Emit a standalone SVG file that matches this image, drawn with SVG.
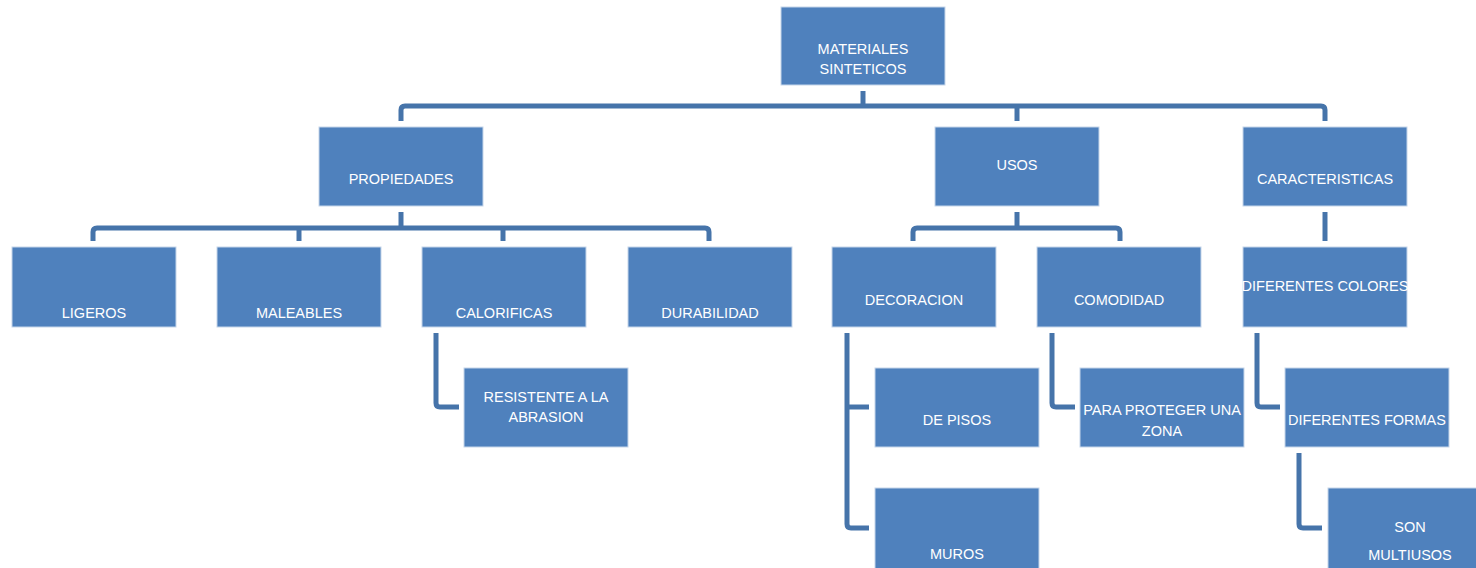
<svg xmlns="http://www.w3.org/2000/svg" width="1476" height="568" viewBox="0 0 1476 568">
  <style>
    .box { fill: #4F81BD; stroke: #c6d6ea; stroke-width: 1; }
    .lbl { fill: #ffffff; font-family: "Liberation Sans", Arial, sans-serif; font-size: 14.5px; text-anchor: middle; }
    .wire { fill: none; stroke: #4674AA; stroke-width: 5; stroke-linejoin: round; }
  </style>
  <rect width="1476" height="568" fill="#ffffff"/>

  <g id="connectors">
    <!-- root to level 1 -->
    <path class="wire" d="M863,91 V106"/>
    <path class="wire" d="M401,121 V110 Q401,106 405,106 H1321 Q1325,106 1325,110 V121"/>
    <path class="wire" d="M1017,106 V121"/>
    <!-- PROPIEDADES to its children -->
    <path class="wire" d="M401,212 V228"/>
    <path class="wire" d="M93,241 V232 Q93,228 97,228 H705 Q709,228 709,232 V241"/>
    <path class="wire" d="M299,228 V241"/>
    <path class="wire" d="M503,228 V241"/>
    <!-- USOS to its children -->
    <path class="wire" d="M1017,212 V228"/>
    <path class="wire" d="M913,241 V232 Q913,228 917,228 H1116 Q1120,228 1120,232 V241"/>
    <!-- CARACTERISTICAS to DIFERENTES COLORES -->
    <path class="wire" d="M1325,212 V241"/>
    <!-- side branches -->
    <path class="wire" d="M436,333 V403 Q436,407 440,407 H459"/>
    <path class="wire" d="M847,333 V524 Q847,528 851,528 H869"/>
    <path class="wire" d="M847,407 H869"/>
    <path class="wire" d="M1052,333 V403 Q1052,407 1056,407 H1075"/>
    <path class="wire" d="M1257,333 V403 Q1257,407 1261,407 H1280"/>
    <path class="wire" d="M1299,453 V524 Q1299,528 1303,528 H1322"/>
  </g>

  <g id="materiales-sinteticos">
    <rect class="box" x="781" y="7" width="164" height="78"/>
    <text class="lbl" x="863" y="54">MATERIALES</text>
    <text class="lbl" x="863" y="74">SINTETICOS</text>
  </g>

  <g id="propiedades">
    <rect class="box" x="319" y="127" width="164" height="79"/>
    <text class="lbl" x="401" y="184">PROPIEDADES</text>
  </g>
  <g id="usos">
    <rect class="box" x="935" y="127" width="164" height="79"/>
    <text class="lbl" x="1017" y="170">USOS</text>
  </g>
  <g id="caracteristicas">
    <rect class="box" x="1243" y="127" width="164" height="79"/>
    <text class="lbl" x="1325" y="184">CARACTERISTICAS</text>
  </g>

  <g id="ligeros">
    <rect class="box" x="12" y="247" width="164" height="80"/>
    <text class="lbl" x="94" y="318">LIGEROS</text>
  </g>
  <g id="maleables">
    <rect class="box" x="217" y="247" width="164" height="80"/>
    <text class="lbl" x="299" y="318">MALEABLES</text>
  </g>
  <g id="calorificas">
    <rect class="box" x="422" y="247" width="164" height="80"/>
    <text class="lbl" x="504" y="318">CALORIFICAS</text>
  </g>
  <g id="durabilidad">
    <rect class="box" x="628" y="247" width="164" height="80"/>
    <text class="lbl" x="710" y="318">DURABILIDAD</text>
  </g>

  <g id="decoracion">
    <rect class="box" x="832" y="247" width="164" height="80"/>
    <text class="lbl" x="914" y="305">DECORACION</text>
  </g>
  <g id="comodidad">
    <rect class="box" x="1037" y="247" width="164" height="80"/>
    <text class="lbl" x="1119" y="305">COMODIDAD</text>
  </g>
  <g id="diferentes-colores">
    <rect class="box" x="1243" y="247" width="164" height="80"/>
    <text class="lbl" x="1325" y="291">DIFERENTES COLORES</text>
  </g>

  <g id="resistente-abrasion">
    <rect class="box" x="464" y="368" width="164" height="79"/>
    <text class="lbl" x="546" y="402">RESISTENTE A LA</text>
    <text class="lbl" x="546" y="422">ABRASION</text>
  </g>
  <g id="de-pisos">
    <rect class="box" x="875" y="368" width="164" height="79"/>
    <text class="lbl" x="957" y="425">DE PISOS</text>
  </g>
  <g id="muros">
    <rect class="box" x="875" y="488" width="164" height="82"/>
    <text class="lbl" x="957" y="559">MUROS</text>
  </g>
  <g id="proteger-zona">
    <rect class="box" x="1080" y="368" width="164" height="79"/>
    <text class="lbl" x="1162" y="415">PARA PROTEGER UNA</text>
    <text class="lbl" x="1162" y="436">ZONA</text>
  </g>
  <g id="diferentes-formas">
    <rect class="box" x="1285" y="368" width="164" height="79"/>
    <text class="lbl" x="1367" y="425">DIFERENTES FORMAS</text>
  </g>
  <g id="multiusos">
    <rect class="box" x="1328" y="488" width="164" height="82"/>
    <text class="lbl" x="1410" y="532">SON</text>
    <text class="lbl" x="1410" y="560">MULTIUSOS</text>
  </g>
</svg>
